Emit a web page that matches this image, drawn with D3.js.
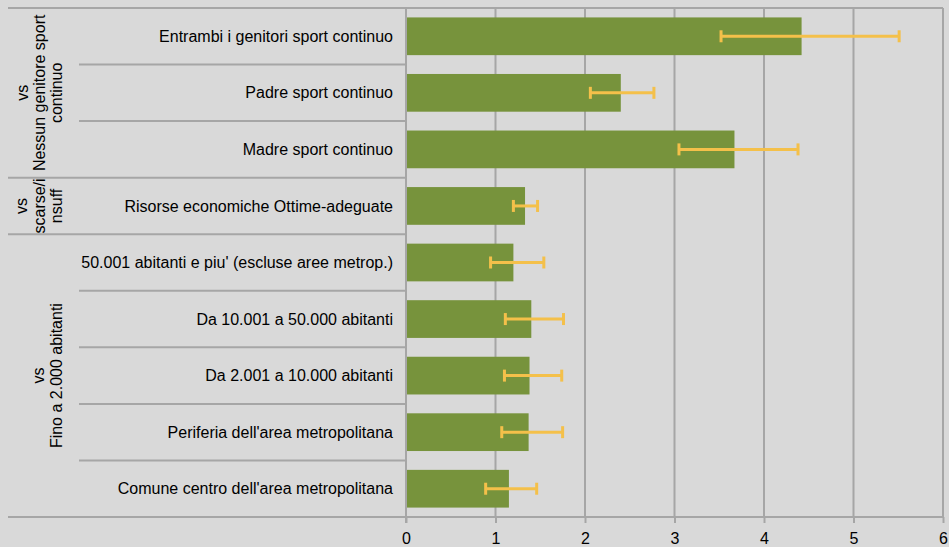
<!DOCTYPE html>
<html>
<head>
<meta charset="utf-8">
<script src="https://cdn.jsdelivr.net/npm/d3@7"></script>
<style>
html,body{margin:0;padding:0;background:#d9d9d9;}
svg{display:block;}
text{font-family:"Liberation Sans",Arial,sans-serif;fill:#000;}
</style>
</head>
<body>
<svg id="chart" width="949" height="547"></svg>
<script>
const categories = [
  "Entrambi i genitori sport continuo",
  "Padre sport continuo",
  "Madre sport continuo",
  "Risorse economiche Ottime-adeguate",
  "50.001 abitanti e piu' (escluse aree metrop.)",
  "Da 10.001 a 50.000 abitanti",
  "Da 2.001 a 10.000 abitanti",
  "Periferia dell'area metropolitana",
  "Comune centro dell'area metropolitana"
];
const values  = [4.42, 2.40, 3.67, 1.33, 1.20, 1.40, 1.38, 1.37, 1.15];
const errLow  = [3.52, 2.06, 3.05, 1.20, 0.945, 1.11, 1.10, 1.07, 0.89];
const errHigh = [5.51, 2.77, 4.38, 1.47, 1.54, 1.76, 1.74, 1.75, 1.46];
const groupNames = [
  ["vs", "Nessun genitore sport", "continuo"],
  ["vs", "scarse/i", "nsuff"],
  ["vs", "Fino a 2.000 abitanti"]
];
const groupSizes = [3, 1, 5];
const xTicks = [0, 1, 2, 3, 4, 5, 6];

(function () {
const svg = d3.select("#chart");
const pLeft = 406, pRight = 943, pTop = 8, pBottom = 517, outerLeft = 8, innerLeft = 79;
const gridColor = "#a6a6a6";

const x = d3.scaleLinear().domain([0, 6]).range([pLeft, pRight]);
const y = d3.scaleBand().domain(categories).range([pTop, pBottom])
  .paddingInner(0.333).paddingOuter(0.1665);
const step = y.step();

// gridlines
svg.append("g").selectAll("line").data(xTicks.slice(1)).join("line")
  .attr("x1", d => x(d)).attr("x2", d => x(d))
  .attr("y1", pTop).attr("y2", pBottom)
  .attr("stroke", gridColor).attr("stroke-width", 2);

// top border
svg.append("line").attr("x1", outerLeft).attr("x2", pRight).attr("y1", pTop).attr("y2", pTop)
  .attr("stroke", gridColor).attr("stroke-width", 2);

// category boundary lines
const groupStarts = [];
{ let acc = 0; groupSizes.forEach(s => { groupStarts.push(acc); acc += s; }); }
const boundaries = d3.range(1, categories.length + 1);
svg.append("g").selectAll("line").data(boundaries).join("line")
  .attr("x1", i => (groupStarts.includes(i) || i === categories.length) ? outerLeft : innerLeft)
  .attr("x2", pLeft)
  .attr("y1", i => pTop + i * step).attr("y2", i => pTop + i * step)
  .attr("stroke", gridColor).attr("stroke-width", 2);

// bars
svg.append("g").selectAll("rect").data(categories).join("rect")
  .attr("x", x(0)).attr("y", d => y(d))
  .attr("width", (d, i) => x(values[i]) - x(0))
  .attr("height", y.bandwidth())
  .attr("fill", "#77933c");

// error bars
const eb = svg.append("g").attr("stroke", "#f4c04a").attr("stroke-width", 3);
categories.forEach((c, i) => {
  const cy = y(c) + y.bandwidth() / 2;
  eb.append("line").attr("x1", x(errLow[i])).attr("x2", x(errHigh[i])).attr("y1", cy).attr("y2", cy);
  [errLow[i], errHigh[i]].forEach(v => {
    eb.append("line").attr("x1", x(v)).attr("x2", x(v)).attr("y1", cy - 6).attr("y2", cy + 6);
  });
});

// x axis
const xAxis = d3.axisBottom(x).tickValues(xTicks).tickSize(6).tickFormat(d3.format("d"));
const ax = svg.append("g").attr("transform", `translate(0,${pBottom})`).call(xAxis);
ax.select(".domain").remove();
ax.selectAll(".tick line").attr("stroke", gridColor).attr("stroke-width", 2);
ax.selectAll(".tick text").attr("font-size", 16).attr("y", 16).attr("dy", "0.71em")
  .style("font-family", "'Liberation Sans', Arial, sans-serif").attr("fill", "#000");
svg.append("line").attr("x1", outerLeft).attr("x2", pRight).attr("y1", pBottom).attr("y2", pBottom)
  .attr("stroke", gridColor).attr("stroke-width", 2);
// y axis line
svg.append("line").attr("x1", pLeft).attr("x2", pLeft).attr("y1", pTop).attr("y2", pBottom + 6)
  .attr("stroke", gridColor).attr("stroke-width", 2);

// category labels
svg.append("g").selectAll("text").data(categories).join("text")
  .attr("x", 393).attr("y", d => y(d) + y.bandwidth() / 2)
  .attr("dy", "0.35em").attr("text-anchor", "end").attr("font-size", 16)
  .text(d => d);

// group labels (rotated)
const baselines = [[28, 45, 62], [27, 45, 62], [44, 62]];
groupNames.forEach((lines, gi) => {
  const y0 = pTop + groupStarts[gi] * step;
  const y1 = y0 + groupSizes[gi] * step;
  const cy = (y0 + y1) / 2;
  lines.forEach((t, li) => {
    svg.append("text")
      .attr("transform", `translate(${baselines[gi][li]},${cy}) rotate(-90)`)
      .attr("text-anchor", "middle").attr("font-size", 16)
      .text(t);
  });
});
})();
</script>
</body>
</html>
